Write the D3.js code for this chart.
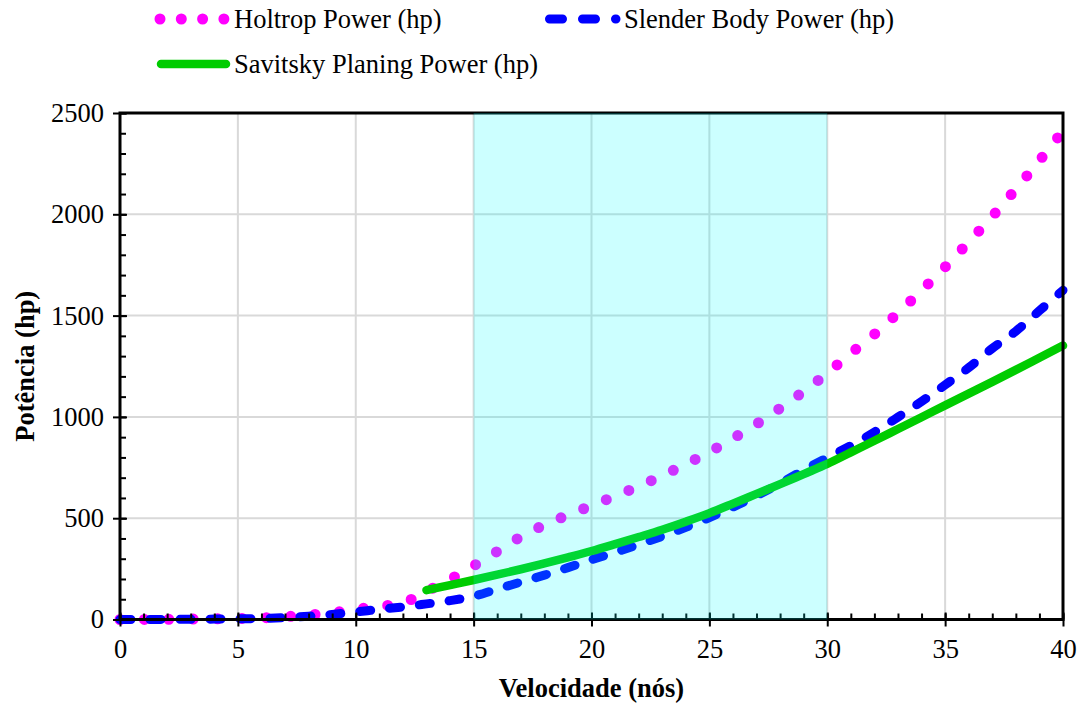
<!DOCTYPE html>
<html><head><meta charset="utf-8">
<script src="https://cdn.jsdelivr.net/npm/d3@7"></script>
<style>body{margin:0;background:#fff}svg{display:block}text{font-family:"Liberation Serif","Times New Roman",serif}</style>
</head><body><svg id="c" width="1084" height="706"></svg>
<script>
const speeds = d3.range(0, 41);
const holtrop = [0,0.5,1,2,3,5,8,14,22,33,50,65,82,139,198,265,336,408,467,516,562,609,658,710,767,827,894,965,1043,1126,1216,1314,1408,1513,1624,1740,1863,1990,2125,2265,2411];
const slender = [0,0,0.5,1,2,3,5,9,16,25,37,50,62,77,93,115,150,185,219,256,295,332,370,411,455,503,555,611,672,737,799,858,925,999,1076,1158,1243,1338,1423,1524,1625];
const savSpeeds = d3.range(13, 41);
const savitsky = [145,170,195,221,248,277,307,338,372,407,443,483,525,572,620,668,718,768,825,882,940,998,1057,1115,1173,1232,1292,1352];
const xTicks = [0,5,10,15,20,25,30,35,40];
const yTicks = [0,500,1000,1500,2000,2500];
const band = [15, 30];
const seriesNames = ["Holtrop Power (hp)", "Slender Body Power (hp)", "Savitsky Planing Power (hp)"];

const FS = 26.5;
const svg = d3.select("#c");
const L = 120, R = 1063, T = 113, B = 619.5;
const x = d3.scaleLinear().domain([0, 40]).range([L, R]);
const y = d3.scaleLinear().domain([0, 2500]).range([B, T]);

// gridlines
const g = svg.append("g");
g.selectAll(".vg").data(xTicks.filter(d => d > 0 && d < 40)).enter().append("line")
  .attr("x1", d => x(d)).attr("x2", d => x(d)).attr("y1", T).attr("y2", B)
  .attr("stroke", "#d9d9d9").attr("stroke-width", 2);
g.selectAll(".hg").data(yTicks.filter(d => d > 0 && d < 2500)).enter().append("line")
  .attr("x1", L).attr("x2", R).attr("y1", d => y(d)).attr("y2", d => y(d))
  .attr("stroke", "#d9d9d9").attr("stroke-width", 2);

// lines
const line = d3.line().x(d => x(d[0])).y(d => y(d[1])).curve(d3.curveCatmullRom.alpha(0.5));
svg.append("path").datum(speeds.map((s, i) => [s, holtrop[i]]))
  .attr("d", line).attr("fill", "none").attr("stroke", "#ff00ff").attr("stroke-width", 11)
  .attr("stroke-linecap", "round").attr("stroke-dasharray", "0 24.4");
svg.append("path").datum(speeds.map((s, i) => [s, slender[i]]))
  .attr("d", line).attr("fill", "none").attr("stroke", "#0000ff").attr("stroke-width", 9)
  .attr("stroke-linecap", "round").attr("stroke-dasharray", "11 19");
svg.append("path").datum(savSpeeds.map((s, i) => [s, savitsky[i]]))
  .attr("d", line).attr("fill", "none").attr("stroke", "#00cc00").attr("stroke-width", 8.5)
  .attr("stroke-linecap", "round");

// axes
const xAxisMinor = d3.axisBottom(x).tickValues(d3.range(0, 41)).tickSize(-6).tickFormat("");
svg.append("g").attr("transform", `translate(0,${B})`).call(xAxisMinor)
  .call(s => s.select(".domain").remove())
  .call(s => s.selectAll("line").attr("stroke", "#000").attr("stroke-width", 2));
const yAxisMinor = d3.axisLeft(y).tickValues(d3.range(0, 2501, 100)).tickSize(-6).tickFormat("");
svg.append("g").attr("transform", `translate(${L},0)`).call(yAxisMinor)
  .call(s => s.select(".domain").remove())
  .call(s => s.selectAll("line").attr("stroke", "#000").attr("stroke-width", 2));

const xAxis = d3.axisBottom(x).tickValues(xTicks).tickSize(7).tickPadding(13).tickFormat(d3.format("d"));
const xa = svg.append("g").attr("transform", `translate(0,${B})`).call(xAxis);
xa.select(".domain").remove();
xa.selectAll(".tick line").attr("y1", -7).attr("stroke", "#000").attr("stroke-width", 2);
xa.selectAll("text").attr("font-size", FS).attr("fill", "#000").attr("font-family", "Liberation Serif");

const yAxis = d3.axisLeft(y).tickValues(yTicks).tickSize(7).tickPadding(9).tickFormat(d3.format("d"));
const ya = svg.append("g").attr("transform", `translate(${L},0)`).call(yAxis);
ya.select(".domain").remove();
ya.selectAll(".tick line").attr("x1", 7).attr("stroke", "#000").attr("stroke-width", 2);
ya.selectAll("text").attr("font-size", FS).attr("fill", "#000").attr("font-family", "Liberation Serif");

// frame
svg.append("rect").attr("x", L).attr("y", T).attr("width", R - L).attr("height", B - T)
  .attr("fill", "none").attr("stroke", "#000").attr("stroke-width", 3);

// shaded band on top
svg.append("rect").attr("x", x(band[0])).attr("y", y(2500)).attr("width", x(band[1]) - x(band[0]))
  .attr("height", y(0) - y(2500)).attr("fill", "#00ffff").attr("fill-opacity", 0.2);

// titles
svg.append("text").attr("x", (L + R) / 2).attr("y", 697).attr("text-anchor", "middle")
  .attr("font-size", FS).attr("font-weight", "bold").text("Velocidade (nós)");
svg.append("text").attr("transform", `translate(34,${(T + B) / 2}) rotate(-90)`).attr("text-anchor", "middle")
  .attr("font-size", FS).attr("font-weight", "bold").text("Potência (hp)");

// legend
const leg = svg.append("g");
leg.append("line").attr("x1", 160).attr("x2", 225).attr("y1", 19).attr("y2", 19)
  .attr("stroke", "#ff00ff").attr("stroke-width", 11).attr("stroke-linecap", "round").attr("stroke-dasharray", "0 21.3");
leg.append("text").attr("x", 234).attr("y", 28).attr("font-size", FS).text(seriesNames[0]);
leg.append("line").attr("x1", 549.5).attr("x2", 616).attr("y1", 19).attr("y2", 19)
  .attr("stroke", "#0000ff").attr("stroke-width", 9).attr("stroke-linecap", "round").attr("stroke-dasharray", "13 20");
leg.append("text").attr("x", 624).attr("y", 28).attr("font-size", FS).text(seriesNames[1]);
leg.append("line").attr("x1", 161).attr("x2", 226).attr("y1", 64).attr("y2", 64)
  .attr("stroke", "#00cc00").attr("stroke-width", 8.5).attr("stroke-linecap", "round");
leg.append("text").attr("x", 234).attr("y", 73).attr("font-size", FS).text(seriesNames[2]);
</script></body></html>
